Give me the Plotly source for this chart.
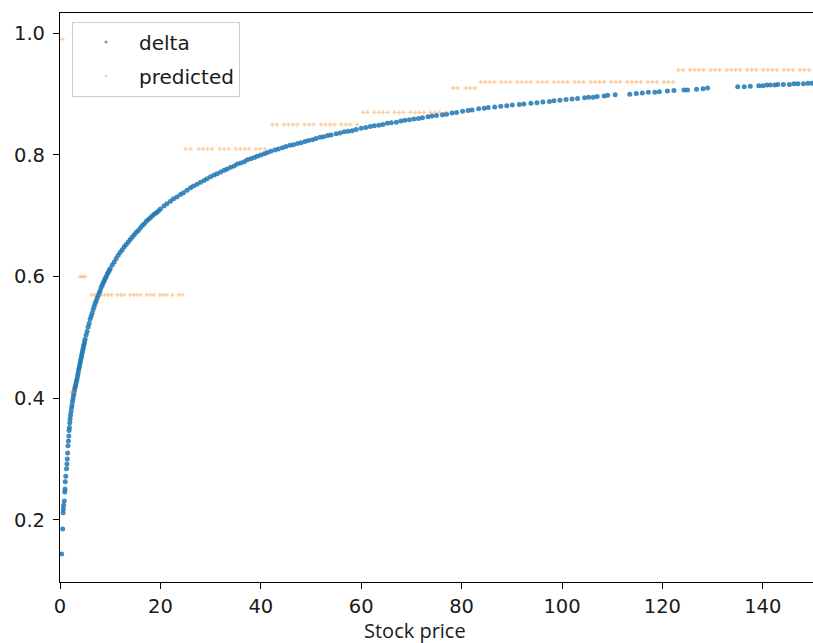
import plotly.graph_objects as go

# Option delta against the underlying stock price
stock_price = [
    0.33, 0.53, 0.62, 0.66, 0.72, 0.86, 0.95, 1.0, 1.05, 1.15, 1.3, 1.38, 1.45, 1.52, 1.6,
    1.68, 1.75, 1.8, 1.88, 1.95, 2.0, 2.1, 2.2, 2.3, 2.4, 2.5, 2.6, 2.7, 2.8, 2.9, 3.0,
    3.1, 3.2, 3.3, 3.4, 3.5, 3.6, 3.7, 3.8, 3.9, 4.0, 4.1, 4.2, 4.3, 4.4, 4.5, 4.6, 4.7,
    4.8, 4.9, 5.0,
    5.2, 5.4, 5.6, 5.8, 6.0, 6.2, 6.4, 6.6, 6.8, 7.0, 7.2, 7.4, 7.6, 7.8, 8.0, 8.2, 8.4,
    8.6, 8.8, 9.0, 9.2, 9.4, 9.6, 9.8, 10.0,
    10.4, 10.8, 11.2, 11.6, 12.0, 12.4, 12.8, 13.2, 13.6, 14.0, 14.4, 14.8, 15.2, 15.6,
    16.0, 16.4, 16.8, 17.2, 17.6, 18.0, 18.4, 18.8, 19.2, 19.6, 20.0,
    20.7, 21.3, 22.0, 22.6, 23.3, 24.0, 24.6, 25.3, 26.0, 26.6, 27.3, 28.0, 28.7, 29.3,
    30.0, 30.7, 31.3, 32.0, 32.7, 33.3, 34.0, 34.7, 35.3, 36.0, 36.7, 37.3, 38.0, 38.7,
    39.3, 40.0, 40.7, 41.3, 42.0, 42.8, 43.5, 44.3, 45.0, 45.8, 46.5, 47.3, 48.0, 48.8,
    49.5, 50.3, 51.0, 51.8, 52.5, 53.3, 54.0, 55.0, 55.8, 56.6, 57.4, 58.2, 59.0, 60.0,
    60.9, 61.8, 62.6, 63.5, 64.3, 65.2, 66.0, 67.0, 67.9, 68.7, 69.6, 70.5, 71.4, 72.2,
    73.3, 74.1, 75.0, 76.2, 77.0, 78.1, 79.0, 80.2, 81.3, 82.1, 83.4, 84.5, 85.3, 86.6,
    87.8, 89.0, 90.1, 91.5, 92.4, 93.8, 95.0, 96.2, 97.5, 98.4, 99.6,
    100.8, 102.0, 103.1, 104.5, 105.3, 106.2, 107.0, 108.4, 109.1, 110.6, 113.5, 114.8,
    116.0, 117.2, 118.5, 119.4, 121.0, 122.3, 124.3, 125.0, 126.8, 128.1, 129.0, 135.0,
    136.3, 137.5, 139.2, 140.0, 140.8, 141.5, 142.4, 143.0, 144.1, 145.3, 146.2, 147.0,
    148.1, 149.0, 149.8,
]
delta = [
    0.144, 0.185, 0.212, 0.218, 0.224, 0.231, 0.246, 0.251, 0.263, 0.272, 0.284, 0.292,
    0.300, 0.310, 0.322, 0.330, 0.338, 0.347, 0.352, 0.360, 0.366, 0.372, 0.378, 0.384,
    0.389, 0.395, 0.400, 0.405, 0.409, 0.414, 0.418,
    0.421, 0.425, 0.429, 0.432, 0.437, 0.441, 0.446, 0.450, 0.454, 0.458, 0.462, 0.466,
    0.470, 0.474, 0.478, 0.482, 0.486, 0.489, 0.493, 0.497,
    0.504, 0.510, 0.517, 0.523, 0.530, 0.535, 0.540, 0.546, 0.551, 0.556, 0.560, 0.565,
    0.569, 0.573, 0.577, 0.582, 0.586, 0.590, 0.593, 0.597, 0.600, 0.604, 0.607, 0.610,
    0.613,
    0.619, 0.624, 0.630, 0.635, 0.640, 0.644, 0.649, 0.653, 0.657, 0.661, 0.665, 0.669,
    0.673, 0.676, 0.680, 0.684, 0.687, 0.691, 0.694, 0.697, 0.700, 0.703, 0.705, 0.708,
    0.711,
    0.716, 0.720, 0.724, 0.728, 0.731, 0.735, 0.738, 0.742, 0.746, 0.749, 0.752, 0.755,
    0.758, 0.761, 0.764, 0.767, 0.769, 0.772, 0.775, 0.777, 0.780, 0.782, 0.785, 0.787,
    0.789, 0.792, 0.794, 0.796, 0.798, 0.800, 0.802, 0.804, 0.806, 0.808, 0.810, 0.812,
    0.814, 0.816, 0.817, 0.819, 0.820, 0.822, 0.824, 0.825, 0.827, 0.829, 0.830, 0.832,
    0.833, 0.835, 0.836, 0.838, 0.839, 0.840, 0.842, 0.844,
    0.845, 0.847, 0.848, 0.849, 0.850, 0.852, 0.853, 0.854, 0.856, 0.857, 0.858, 0.859,
    0.860, 0.861, 0.863, 0.864, 0.865, 0.866, 0.867, 0.869, 0.870, 0.872, 0.873, 0.874,
    0.876, 0.877, 0.878, 0.879, 0.880, 0.881, 0.882, 0.883, 0.884, 0.885, 0.886, 0.887,
    0.888, 0.889, 0.890,
    0.891, 0.892, 0.893, 0.894, 0.895, 0.895, 0.896, 0.897, 0.898, 0.899, 0.900, 0.901,
    0.902, 0.903, 0.903, 0.904, 0.905, 0.906, 0.907, 0.907, 0.908, 0.909, 0.910, 0.912,
    0.912, 0.913, 0.914, 0.914, 0.915, 0.915, 0.915, 0.916, 0.916, 0.916, 0.917, 0.917,
    0.917, 0.918, 0.918,
]

# Model output: one predicted delta per sampled price
pred_price = [
    0.5,
    2.3, 2.6,
    4.0, 4.5, 5.0,
    6.3, 7.0, 8.2, 8.9, 9.6, 10.3, 11.4, 12.1, 12.8, 14.0, 14.7, 15.4, 16.1, 17.3, 18.0,
    18.7, 19.9, 20.6, 21.3, 22.4, 23.7, 24.4,
    25.0, 26.0, 27.6, 28.5, 29.4, 30.3, 31.8, 32.7, 33.6, 35.0, 35.9, 36.8, 37.7, 39.0,
    39.9, 40.8,
    42.3, 43.2, 44.6, 45.5, 46.4, 47.3, 48.7, 49.6, 50.5, 52.0, 52.9, 53.8, 54.7, 56.0,
    56.9, 57.8, 59.2,
    60.4, 61.3, 62.6, 63.5, 64.4, 65.3, 66.6, 67.5, 68.4, 69.8, 70.7, 71.6, 72.5, 73.8,
    74.7, 75.6, 76.9,
    78.3, 79.2, 80.8, 81.7, 82.6,
    83.8, 84.7, 85.6, 86.5, 87.9, 88.8, 89.7, 91.1, 92.0, 92.9, 93.8, 95.2, 96.1, 97.0,
    98.4, 99.3, 100.2, 101.1, 102.5, 103.4, 104.3, 105.7, 106.6, 107.5, 108.4, 109.8,
    110.7, 111.6, 113.0, 113.9, 114.8, 115.7, 117.1, 118.0, 118.9, 120.3, 121.2, 122.1,
    123.2, 124.1, 125.5, 126.4, 127.3, 128.2, 129.6, 130.5, 131.4, 132.8, 133.7, 134.6,
    135.5, 136.9, 137.8, 138.7, 140.1, 141.0, 141.9, 142.8, 144.2, 145.1, 146.0, 147.4,
    148.3, 149.2,
]
predicted = (
    [0.99]
    + [0.41] * 2
    + [0.60] * 3
    + [0.57] * 22
    + [0.81] * 16
    + [0.85] * 17
    + [0.87] * 17
    + [0.91] * 5
    + [0.92] * 38
    + [0.94] * 26
)

x_ticks = [0, 20, 40, 60, 80, 100, 120, 140]
y_ticks = [0.2, 0.4, 0.6, 0.8, 1.0]

BLUE = "#1f77b4"
ORANGE = "#ff7f0e"

fig = go.Figure()
fig.add_trace(go.Scatter(
    x=stock_price, y=delta, mode="markers", name="delta", showlegend=False,
    marker=dict(color=BLUE, size=5, opacity=0.85, line=dict(width=0)),
))
fig.add_trace(go.Scatter(
    x=pred_price, y=predicted, mode="markers", name="predicted", showlegend=False,
    marker=dict(color=ORANGE, size=3.5, opacity=0.4, symbol="cross", line=dict(width=0)),
))

# Legend keys with the small point size used in the key box
fig.add_trace(go.Scatter(
    x=[None], y=[None], mode="markers", name="delta", legendgroup="a",
    marker=dict(color=BLUE, size=3, opacity=0.7),
))
fig.add_trace(go.Scatter(
    x=[None], y=[None], mode="markers", name="predicted", legendgroup="b",
    marker=dict(color=ORANGE, size=3, opacity=0.3),
))

axis_common = dict(
    showline=True, linecolor="black", linewidth=1.2, mirror=True,
    ticks="outside", ticklen=6, tickwidth=1.2, tickcolor="black",
    showgrid=False, zeroline=False,
    tickfont=dict(family="DejaVu Sans", size=19.5, color="#1a1a1a"),
)

fig.update_xaxes(range=[0, 150], tickvals=x_ticks, **axis_common)
fig.update_yaxes(range=[0.098, 1.0334], tickvals=y_ticks, tickformat=".1f",
                 ticklabelstandoff=4, **axis_common)

fig.add_annotation(
    text="Stock price", xref="paper", yref="paper", x=0.471, y=-0.086,
    xanchor="center", yanchor="middle", showarrow=False,
    font=dict(family="Open Sans", size=20, color="#1a1a1a"),
)

fig.update_layout(
    width=813, height=643,
    margin=dict(l=60, r=0, t=13, b=61),
    plot_bgcolor="white", paper_bgcolor="white",
    showlegend=True,
    legend=dict(
        x=0.016, y=0.985, xanchor="left", yanchor="top",
        bgcolor="rgba(255,255,255,0.8)", bordercolor="#cccccc", borderwidth=1,
        font=dict(family="DejaVu Sans", size=20, color="#1a1a1a"),
        itemwidth=56, tracegroupgap=5, traceorder="grouped",
    ),
)

fig.write_html("out.html")
